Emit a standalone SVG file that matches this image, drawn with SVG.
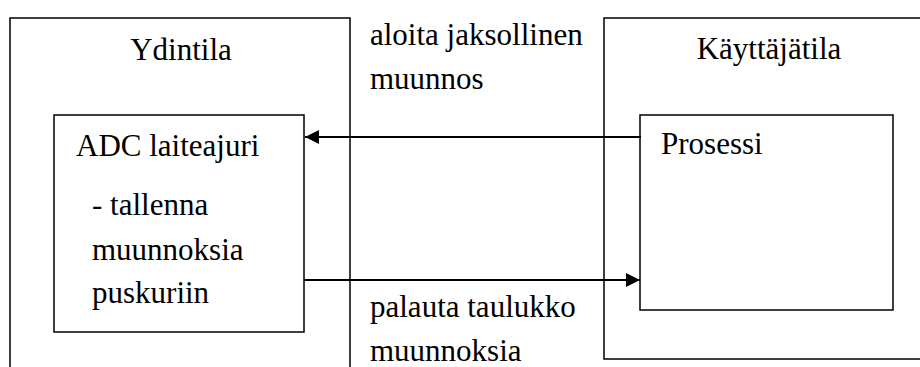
<svg xmlns="http://www.w3.org/2000/svg" width="920" height="367" viewBox="0 0 920 367">
  <style>
    .box { fill: none; stroke: #000; stroke-width: 1.5; }
    .lbl { font-family: "Liberation Serif", "Times New Roman", serif; font-size: 31px; fill: #000; }
    .conn { stroke: #000; stroke-width: 2; fill: none; }
  </style>
  <defs>
    <!-- filled triangular arrowhead shared by both connectors -->
    <marker id="arrow" viewBox="0 0 10 10" refX="10" refY="5" markerWidth="8" markerHeight="7" markerUnits="strokeWidth" orient="auto">
      <path d="M0,0 L10,5 L0,10 Z" fill="#000"/>
    </marker>
  </defs>
  <rect width="920" height="367" fill="#fff"/>

  <!-- Kernel space (open at the bottom) -->
  <g id="ydintila">
    <path class="box" d="M10,380 V18 H350 V380"/>
    <text class="lbl" x="181" y="60" text-anchor="middle">Ydintila</text>
  </g>

  <!-- User space (open at the right) -->
  <g id="kayttajatila">
    <path class="box" d="M930,18 H604 V359 H930"/>
    <text class="lbl" x="769" y="59" text-anchor="middle">Käyttäjätila</text>
  </g>

  <!-- Device driver -->
  <g id="adc-laiteajuri">
    <rect class="box" x="54" y="115" width="250" height="217"/>
    <text class="lbl" x="76" y="156">ADC laiteajuri</text>
    <text class="lbl" x="92" y="215">- tallenna</text>
    <text class="lbl" x="92" y="260">muunnoksia</text>
    <text class="lbl" x="92" y="303">puskuriin</text>
  </g>

  <!-- Process -->
  <g id="prosessi">
    <rect class="box" x="640" y="115" width="253" height="195"/>
    <text class="lbl" x="661" y="154">Prosessi</text>
  </g>

  <!-- Connectors and their labels -->
  <g id="connectors">
    <line class="conn" x1="641" y1="137" x2="305" y2="137" marker-end="url(#arrow)"/>
    <line class="conn" x1="304" y1="280" x2="640" y2="280" marker-end="url(#arrow)"/>
    <text class="lbl" x="370" y="45">aloita jaksollinen</text>
    <text class="lbl" x="370" y="89">muunnos</text>
    <text class="lbl" x="370" y="317">palauta taulukko</text>
    <text class="lbl" x="370" y="361">muunnoksia</text>
  </g>
</svg>
